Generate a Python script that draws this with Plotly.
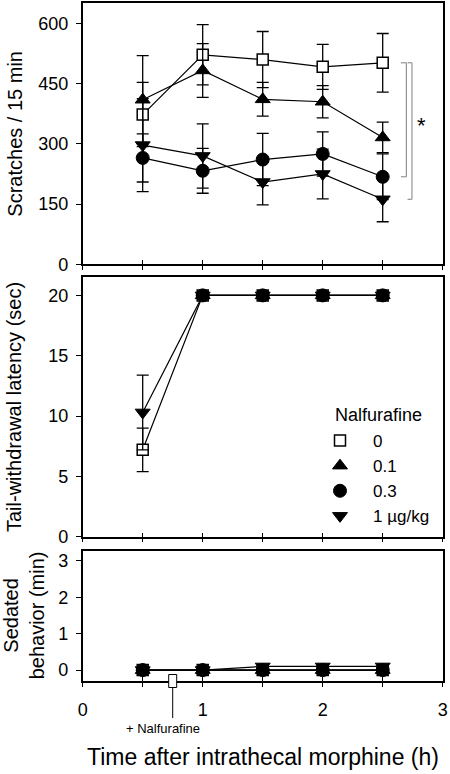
import plotly.graph_objects as go

# ---------------- data ----------------
time_h = [0.5, 1, 1.5, 2, 2.5]
doses = ["0", "0.1", "0.3", "1 µg/kg"]
legend_title = "Nalfurafine"

# Scratches / 15 min (mean, SEM)
scr_0 = [373, 522, 510, 492, 502]
scr_0_err = [80, 75, 70, 56, 73]
scr_01 = [410, 483, 411, 405, 316]
scr_01_err = [110, 67, 42, 40, 38]
scr_03 = [265, 233, 261, 275, 218]
scr_03_err = [60, 56, 65, 55, 57]
scr_1 = [297, 270, 205, 225, 162]
scr_1_err = [116, 80, 57, 62, 56]

# Tail-withdrawal latency (sec)
lat_0 = [7.2, 20, 20, 20, 20]
lat_0_err = [1.8, 0, 0, 0, 0]
lat_01 = [None, 20, 20, 20, 20]
lat_01_err = [0, 0, 0, 0, 0]
lat_03 = [None, 20, 20, 20, 20]
lat_03_err = [0, 0, 0, 0, 0]
lat_1 = [10.3, 20, 20, 20, 20]
lat_1_err = [3.1, 0, 0, 0, 0]

# Sedated behavior (min)
sed_0 = [0, 0, 0, 0, 0]
sed_01 = [0, 0, 0, 0, 0]
sed_03 = [0, 0, 0, 0, 0]
sed_1 = [0, 0, 0.1, 0.1, 0.1]

y1_ticks = [0, 150, 300, 450, 600]
y2_ticks = [0, 5, 10, 15, 20]
y3_ticks = [0, 1, 2, 3]
x_ticks = [0, 0.5, 1, 1.5, 2, 2.5, 3]
x_ticktext = ["0", "", "1", "", "2", "", "3"]
x_inner_ticks = [0.5, 1, 1.5, 2, 2.5]
nalf_time = 0.75

# ---------------- styling ----------------
FONT = "Liberation Sans, Arial, sans-serif"
W, H = 450, 774
styles = [
    dict(symbol="square", size=11, color="white", line=dict(color="black", width=1.5)),
    dict(symbol="triangle-up", size=13, color="black", line=dict(color="black", width=1)),
    dict(symbol="circle", size=13, color="black", line=dict(color="black", width=1)),
    dict(symbol="triangle-down", size=13, color="black", line=dict(color="black", width=1)),
]

fig = go.Figure()

panels = [
    ("x", "y", [scr_0, scr_01, scr_03, scr_1], [scr_0_err, scr_01_err, scr_03_err, scr_1_err]),
    ("x2", "y2", [lat_0, lat_01, lat_03, lat_1], [lat_0_err, lat_01_err, lat_03_err, lat_1_err]),
    ("x3", "y3", [sed_0, sed_01, sed_03, sed_1], [None, None, None, None]),
]

for xa, ya, series, errs in panels:
    for i, (ys, er) in enumerate(zip(series, errs)):
        kw = {}
        if er is not None:
            kw["error_y"] = dict(type="data", array=er, visible=True, color="black",
                                 thickness=1.3, width=6)
        fig.add_trace(go.Scatter(
            x=time_h, y=ys, mode="lines+markers", xaxis=xa, yaxis=ya,
            line=dict(color="black", width=1.2), marker=styles[i],
            showlegend=False, hoverinfo="skip", cliponaxis=False, **kw))

# legend-only traces
for i, name in enumerate(doses):
    fig.add_trace(go.Scatter(x=[None], y=[None], mode="markers", name=name,
                             marker=styles[i], xaxis="x2", yaxis="y2",
                             showlegend=True))

# dummy traces for inner-tick overlay axes
for xa, ya in [("x4", "y"), ("x5", "y2"), ("x6", "y3")]:
    fig.add_trace(go.Scatter(x=[None], y=[None], xaxis=xa, yaxis=ya,
                             showlegend=False, hoverinfo="skip"))

# ---------------- axes ----------------
def px2paper_y(py):
    return (H - py) / H

xdom = [82.7 / W, 442.7 / W]
doms = [
    [px2paper_y(264.3), px2paper_y(3)],
    [px2paper_y(536.7), px2paper_y(277.3)],
    [px2paper_y(681), px2paper_y(550.7)],
]

tickfont = dict(family=FONT, size=18, color="black")
base_x = dict(range=[0, 3], domain=xdom, tickvals=x_ticks, ticks="outside", ticklen=4,
              tickwidth=1.3, tickcolor="black", showline=True, linecolor="black",
              linewidth=1.5, mirror=True, showgrid=False, zeroline=False,
              automargin=False, tickfont=tickfont)
base_y = dict(ticks="outside", ticklen=5, tickwidth=1.3, tickcolor="black",
              showline=True, linecolor="black", linewidth=1.5, mirror=True,
              showgrid=False, zeroline=False, automargin=False, tickfont=tickfont,
              ticklabelstandoff=4)

fig.update_layout(
    xaxis=dict(base_x, anchor="y", showticklabels=False),
    xaxis2=dict(base_x, anchor="y2", showticklabels=False),
    xaxis3=dict(base_x, anchor="y3", showticklabels=True, ticktext=x_ticktext,
                ticklabelstandoff=8),
    yaxis=dict(base_y, anchor="x", domain=doms[0], range=[0, 651], tickvals=y1_ticks),
    yaxis2=dict(base_y, anchor="x2", domain=doms[1], range=[0, 21.5], tickvals=y2_ticks),
    yaxis3=dict(base_y, anchor="x3", domain=doms[2], range=[-0.3, 3.28], tickvals=y3_ticks),
)
inner = dict(range=[0, 3], tickvals=x_inner_ticks, ticks="inside", ticklen=4, tickwidth=1.3,
             tickcolor="black", showticklabels=False, showline=False, showgrid=False,
             zeroline=False, automargin=False)
fig.update_layout(
    xaxis4=dict(inner, overlaying="x", anchor="y"),
    xaxis5=dict(inner, overlaying="x2", anchor="y2"),
    xaxis6=dict(inner, overlaying="x3", anchor="y3"),
)

# ---------------- annotations ----------------
ann = []
ytfont = dict(family=FONT, size=20, color="black")
ann.append(dict(text="Scratches / 15 min", x=15 / W, y=sum(doms[0]) / 2, xref="paper",
                yref="paper", textangle=-90, showarrow=False, font=ytfont,
                xanchor="center", yanchor="middle"))
ann.append(dict(text="Tail-withdrawal latency (sec)", x=14 / W, y=sum(doms[1]) / 2,
                xref="paper", yref="paper", textangle=-90, showarrow=False, font=ytfont,
                xanchor="center", yanchor="middle"))
ann.append(dict(text="Sedated<br>behavior (min)", x=23.5 / W, y=sum(doms[2]) / 2,
                xref="paper", yref="paper", textangle=-90, showarrow=False, font=ytfont,
                xanchor="center", yanchor="middle"))
ann.append(dict(text="Time after intrathecal morphine (h)", x=263 / W, y=px2paper_y(757),
                xref="paper", yref="paper", showarrow=False,
                font=dict(family=FONT, size=23, color="black"),
                xanchor="center", yanchor="middle"))
ann.append(dict(text="+ Nalfurafine", x=nalf_time, xref="x3", y=px2paper_y(728),
                yref="paper", xshift=-10, showarrow=False,
                font=dict(family=FONT, size=13, color="black"),
                xanchor="center", yanchor="middle"))
ann.append(dict(text="*", x=2.825, xref="x", y=347, yref="y", showarrow=False,
                font=dict(family=FONT, size=22, color="black"),
                xanchor="center", yanchor="middle"))
ann.append(dict(text=legend_title, x=333 / W, y=px2paper_y(415), xref="paper",
                yref="paper", showarrow=False,
                font=dict(family=FONT, size=18, color="black"),
                xanchor="left", yanchor="middle"))
fig.update_layout(annotations=ann)

# ---------------- shapes ----------------
gray = "#7f7f7f"
x_end = time_h[-1]
axis_bottom = doms[2][0]
shapes = [
    # inner bracket: 0 vs 0.3
    dict(type="path", xref="x", yref="y",
         path=f"M {x_end+0.152},{scr_0[-1]} L {x_end+0.197},{scr_0[-1]} "
              f"L {x_end+0.197},{scr_03[-1]} L {x_end+0.152},{scr_03[-1]}",
         line=dict(color=gray, width=1)),
    # outer bracket: 0 vs 1
    dict(type="path", xref="x", yref="y",
         path=f"M {x_end+0.207},{scr_0[-1]} L {x_end+0.244},{scr_0[-1]} "
              f"L {x_end+0.244},{scr_1[-1]} L {x_end+0.207},{scr_1[-1]}",
         line=dict(color=gray, width=1)),
    # nalfurafine injection marker
    dict(type="line", xref="x3", yref="paper", ysizemode="pixel",
         x0=nalf_time, x1=nalf_time, yanchor=axis_bottom, y0=-6, y1=-37,
         line=dict(color="black", width=1)),
    dict(type="rect", xref="x3", yref="paper", xsizemode="pixel", ysizemode="pixel",
         xanchor=nalf_time, yanchor=axis_bottom, x0=-4, x1=4, y0=-6.5, y1=6.5,
         fillcolor="white", line=dict(color="black", width=1), layer="above"),
]
fig.update_layout(shapes=shapes)

fig.update_layout(
    width=W, height=H, margin=dict(l=0, r=0, t=0, b=0),
    paper_bgcolor="white", plot_bgcolor="white",
    font=dict(family=FONT, color="black"),
    showlegend=True,
    legend=dict(x=307 / W, y=px2paper_y(423), xanchor="left", yanchor="top",
                bgcolor="rgba(0,0,0,0)", font=dict(family=FONT, size=17, color="black"),
                itemwidth=56, tracegroupgap=0),
)

fig.write_html("out.html", config={"displayModeBar": False},
               post_script="document.body.style.margin='0';document.body.style.padding='0';")
